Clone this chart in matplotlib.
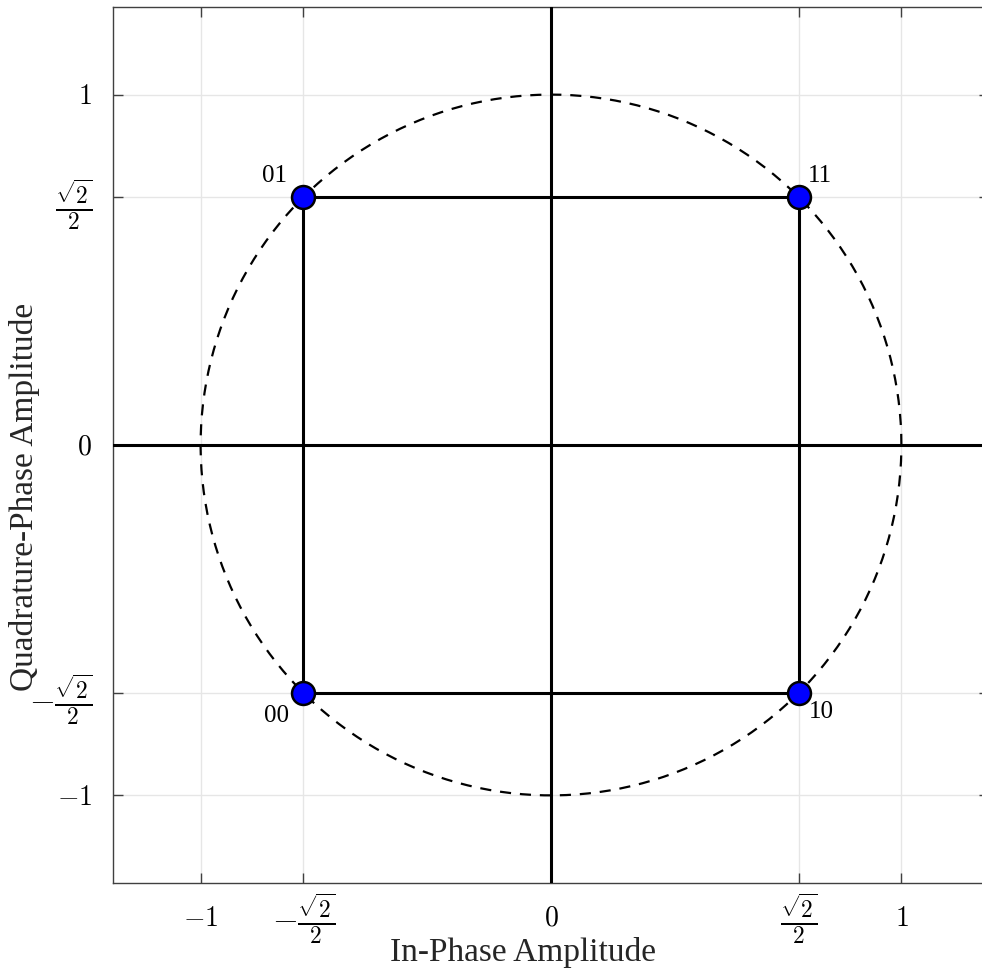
import numpy as np
import matplotlib
matplotlib.use("Agg")
from matplotlib import pyplot as plt

plt.rcParams["mathtext.fontset"] = "cm"
plt.rcParams["font.family"] = ["Liberation Serif", "DejaVu Serif"]

a = np.sqrt(2) / 2

# constellation points (QPSK) and their bit labels
sym_i = [-a, a, -a, a]
sym_q = [a, a, -a, -a]
sym_bits = ["01", "11", "00", "10"]
# label offsets in points (dx, dy)
label_offsets = [(-21, 15), (15, 15), (-19, -17), (16, -14)]

# square outline through the points
square_i = [-a, a, a, -a, -a]
square_q = [a, a, -a, -a, a]

ticks = [-1, -a, 0, a, 1]
tick_labels = [r"$-1$", r"$-\frac{\sqrt{2}}{2}$", r"$0$", r"$\frac{\sqrt{2}}{2}$", r"$1$"]
is_frac = [False, True, False, True, False]

lim = 1.25

fig = plt.figure(figsize=(9.82, 9.73), dpi=100)
ax = fig.add_axes([113 / 982, (973 - 883) / 973, 876 / 982, 876 / 973])

ax.grid(True, color="#e6e6e6", linewidth=1.0, zorder=0)
ax.set_axisbelow(True)

# unit circle
theta = np.linspace(0, 2 * np.pi, 400)
ax.plot(np.cos(theta), np.sin(theta), "k--", linewidth=1.6, dashes=(5, 4), zorder=2)

# axis cross
ax.axhline(0, color="k", linewidth=2.2, zorder=3)
ax.axvline(0, color="k", linewidth=2.2, zorder=3)

ax.plot(square_i, square_q, color="k", linewidth=2.2, zorder=3)
ax.plot(sym_i, sym_q, "o", markersize=16.5, markerfacecolor="#0000ff",
        markeredgecolor="k", markeredgewidth=1.8, zorder=4)

for x, y, s, off in zip(sym_i, sym_q, sym_bits, label_offsets):
    ax.annotate(s, (x, y), xytext=off, textcoords="offset points",
                ha="center", va="center", fontsize=18)

ax.set_xlim(-lim, lim)
ax.set_ylim(-lim, lim)
ax.set_xticks(ticks)
ax.set_yticks(ticks)
ax.set_xticklabels(tick_labels, fontsize=20, va="center")
ax.set_yticklabels(tick_labels, fontsize=20)
for lbls in (ax.get_xticklabels(), ax.get_yticklabels()):
    for t, fr in zip(lbls, is_frac):
        if fr:
            t.set_fontsize(24)
ax.tick_params(direction="in", length=7, width=1, color="#404040",
               top=True, right=True)
ax.tick_params(axis="x", pad=26)
ax.tick_params(axis="y", pad=15)
for sp in ax.spines.values():
    sp.set_color("#404040")
    sp.set_linewidth(1)

ax.set_xlabel("In-Phase Amplitude", fontsize=24, color="#262626",
              va="center", ha="center")
ax.xaxis.set_label_coords((523 - 113) / 876, -(952 - 883) / 876)
ax.set_ylabel("Quadrature-Phase Amplitude", fontsize=24, color="#262626",
              va="center", ha="center")
ax.yaxis.set_label_coords(-(113 - 25) / 876, (883 - 497) / 876)

fig.savefig("out.png", dpi=100)
